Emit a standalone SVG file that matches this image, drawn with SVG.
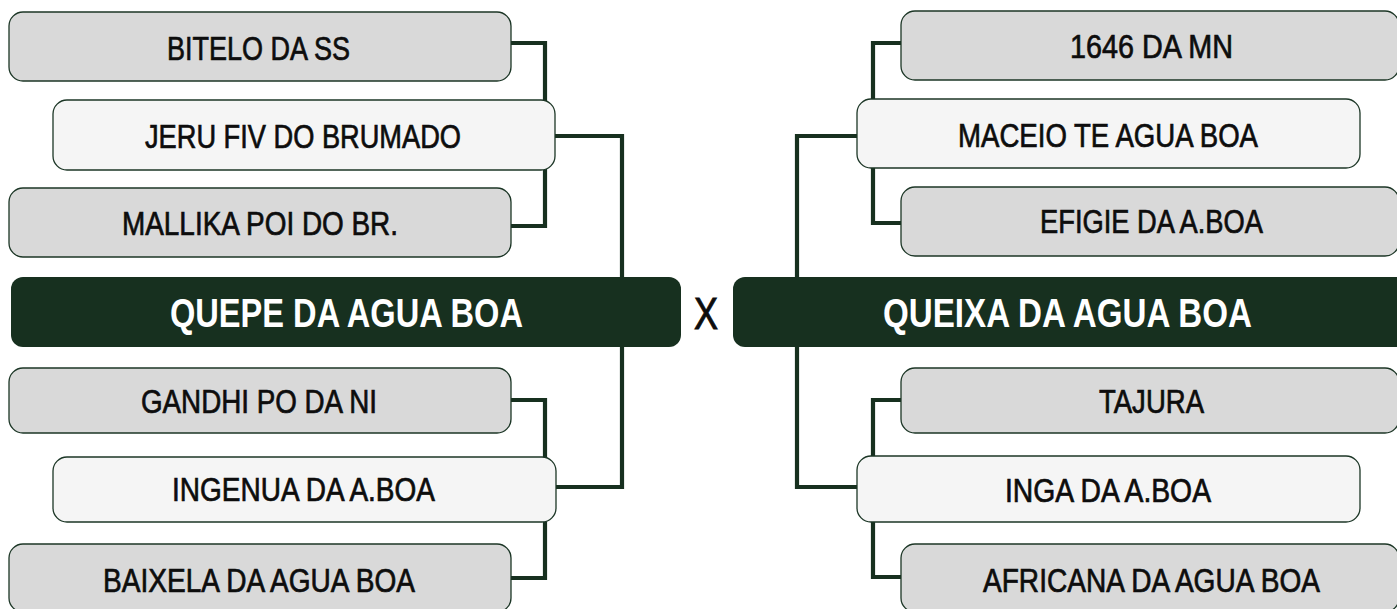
<svg xmlns="http://www.w3.org/2000/svg" width="1397" height="609" viewBox="0 0 1397 609">
<style>
.bg{fill:#ffffff}
.g{fill:#d9d9d9;stroke:#1c3626;stroke-width:1.3}
.l{fill:#f5f5f5;stroke:#1c3626;stroke-width:1.3}
.m{fill:#17301f}
.c{fill:none;stroke:#17301f;stroke-width:4.2}
.t{font-family:"Liberation Sans",Arial,sans-serif;font-size:33.5px;fill:#0d0d0d;stroke:#0d0d0d;stroke-width:0.7;text-anchor:middle}
.mt{font-family:"Liberation Sans",Arial,sans-serif;font-size:40.5px;font-weight:bold;fill:#ffffff;text-anchor:middle}
.x{font-family:"Liberation Sans",Arial,sans-serif;font-size:45px;fill:#0d0d0d;stroke:#0d0d0d;stroke-width:1;text-anchor:middle}
</style>
<rect class="bg" x="0" y="0" width="1397" height="609"/>
<g id="connectors">
<path class="c" d="M511 43 H545 V226 H511"/>
<path class="c" d="M555 136 H622 V312"/>
<path class="c" d="M511 400 H545 V578 H511"/>
<path class="c" d="M556 487 H622 V312"/>
<path class="c" d="M901 43 H873 V223 H901"/>
<path class="c" d="M857 136 H797 V312"/>
<path class="c" d="M901 400 H873 V577 H901"/>
<path class="c" d="M857 487 H797 V312"/>
</g>
<g id="bitelo"><rect class="g" x="9" y="12" width="502" height="69" rx="14"/><text class="t" x="258.5" y="60" textLength="183" lengthAdjust="spacingAndGlyphs">BITELO DA SS</text></g>
<g id="jeru"><rect class="l" x="53" y="100" width="502" height="70" rx="14"/><text class="t" x="303" y="148" textLength="316" lengthAdjust="spacingAndGlyphs">JERU FIV DO BRUMADO</text></g>
<g id="mallika"><rect class="g" x="9" y="188" width="502" height="69" rx="14"/><text class="t" x="260" y="235" textLength="276" lengthAdjust="spacingAndGlyphs">MALLIKA POI DO BR.</text></g>
<g id="quepe"><rect class="m" x="11" y="277" width="670" height="70" rx="12"/><text class="mt" x="346.5" y="327" textLength="353" lengthAdjust="spacingAndGlyphs">QUEPE DA AGUA BOA</text></g>
<g id="gandhi"><rect class="g" x="9" y="368" width="502" height="65" rx="14"/><text class="t" x="259" y="413" textLength="236" lengthAdjust="spacingAndGlyphs">GANDHI PO DA NI</text></g>
<g id="ingenua"><rect class="l" x="53" y="457" width="503" height="65" rx="14"/><text class="t" x="303.5" y="501" textLength="263" lengthAdjust="spacingAndGlyphs">INGENUA DA A.BOA</text></g>
<g id="baixela"><rect class="g" x="9" y="544" width="502" height="68" rx="14"/><text class="t" x="259" y="592" textLength="312" lengthAdjust="spacingAndGlyphs">BAIXELA DA AGUA BOA</text></g>
<g id="versus"><text class="x" x="706" y="329" textLength="24" lengthAdjust="spacingAndGlyphs">X</text></g>
<g id="queixa"><rect class="m" x="733" y="277" width="676" height="70" rx="12"/><text class="mt" x="1067.5" y="327" textLength="369" lengthAdjust="spacingAndGlyphs">QUEIXA DA AGUA BOA</text></g>
<g id="n1646"><rect class="g" x="901" y="11" width="498" height="69" rx="14"/><text class="t" x="1151.5" y="58" textLength="163" lengthAdjust="spacingAndGlyphs">1646 DA MN</text></g>
<g id="maceio"><rect class="l" x="857" y="99" width="503" height="69" rx="14"/><text class="t" x="1108" y="147" textLength="300" lengthAdjust="spacingAndGlyphs">MACEIO TE AGUA BOA</text></g>
<g id="efigie"><rect class="g" x="901" y="187" width="498" height="69" rx="14"/><text class="t" x="1151.5" y="233" textLength="223" lengthAdjust="spacingAndGlyphs">EFIGIE DA A.BOA</text></g>
<g id="tajura"><rect class="g" x="901" y="368" width="498" height="65" rx="14"/><text class="t" x="1151.5" y="413" textLength="105" lengthAdjust="spacingAndGlyphs">TAJURA</text></g>
<g id="inga"><rect class="l" x="857" y="456" width="503" height="66" rx="14"/><text class="t" x="1108" y="502" textLength="206" lengthAdjust="spacingAndGlyphs">INGA DA A.BOA</text></g>
<g id="africana"><rect class="g" x="901" y="544" width="498" height="68" rx="14"/><text class="t" x="1151.5" y="592" textLength="337" lengthAdjust="spacingAndGlyphs">AFRICANA DA AGUA BOA</text></g>
</svg>
